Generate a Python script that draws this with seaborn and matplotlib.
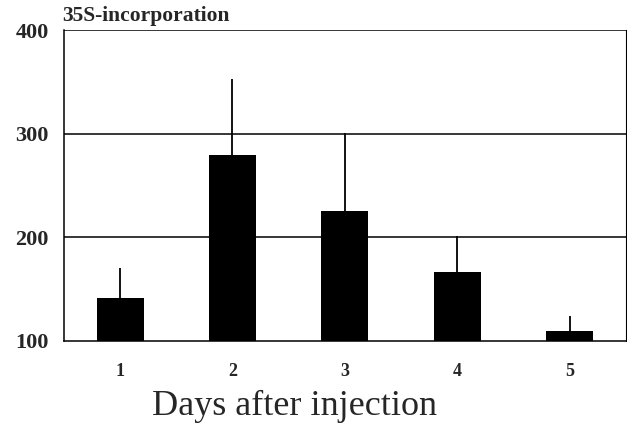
import matplotlib
matplotlib.use('Agg')
import matplotlib.pyplot as plt
import seaborn as sns
import pandas as pd

# Data
days = ['1', '2', '3', '4', '5']
incorporation = [141, 279, 225, 167, 110]
err_up = [29, 74, 76, 34, 14]

data = pd.DataFrame({'Day': days, 'Value': incorporation})

sns.set_style('white')
plt.rcParams['font.family'] = ['Liberation Serif', 'DejaVu Serif']

fig = plt.figure(figsize=(6.27, 4.23), dpi=100)
ax = fig.add_axes([0.102, 0.194, 0.896, 0.735])

sns.barplot(data=data, x='Day', y='Value', color='black', width=0.42,
            saturation=1, linewidth=0, ax=ax, zorder=3)

# Upward-only error bars, no caps
ax.errorbar(range(len(days)), incorporation, yerr=[[0] * len(days), err_up],
            fmt='none', ecolor='black', elinewidth=1.3, capsize=0, zorder=4)

ax.set_ylim(100, 400)
ax.set_xlim(-0.5, 4.5)
ax.set_yticks([100, 200, 300, 400])
ax.set_yticklabels(['100', '200', '300', '400'], fontsize=16, fontweight='bold')
for y in [200, 300, 400]:
    ax.axhline(y, color='black', lw=1.1, zorder=2)

# x ticks sit between the categories, labels centred under bars
ax.set_xticks([0.5, 1.5, 2.5, 3.5])
ax.set_xticklabels([])
ax.set_xticks(range(len(days)), minor=True)
ax.set_xticklabels(days, minor=True, fontsize=13, fontweight='bold')
ax.tick_params(axis='x', which='major', direction='out', length=6, width=1, color='black')
ax.tick_params(axis='x', which='minor', length=0, pad=16)
ax.tick_params(axis='y', direction='out', length=6, width=1, color='black', pad=5)

for side in ['left', 'bottom', 'right']:
    ax.spines[side].set_color('black')
    ax.spines[side].set_linewidth(1.1)
ax.spines['top'].set_visible(False)
ax.spines['right'].set_linewidth(0.8)

ax.set_ylabel('')
ax.set_xlabel('')
fig.text(0.469, 0.0, 'Days after injection', fontsize=26, ha='center', va='bottom')
ax.text(-0.004, 1.012, '35S-incorporation', transform=ax.transAxes,
        fontsize=15.5, fontweight='bold', ha='left', va='bottom')

fig.savefig('out.png', dpi=100)
